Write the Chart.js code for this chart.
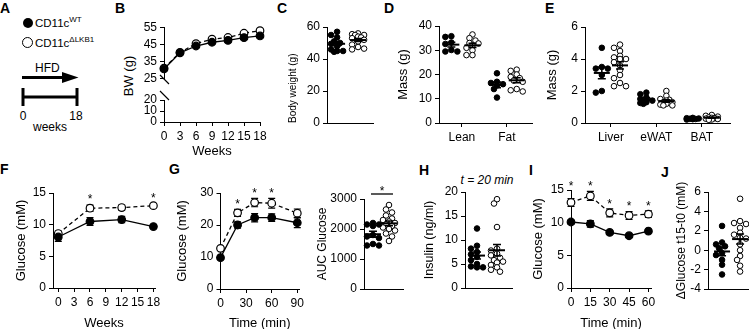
<!DOCTYPE html>
<html><head><meta charset="utf-8">
<script src="https://cdn.jsdelivr.net/npm/chart.js@4.4.1/dist/chart.umd.min.js"></script>
<style>
body{margin:0;background:#fff;}
#fig{position:relative;width:749px;height:329px;overflow:hidden;font-family:"Liberation Sans",Arial,sans-serif;color:#000;}
.rot{position:absolute;transform:translate(-50%,-50%) rotate(-90deg);white-space:nowrap;}
</style></head><body>
<div id="fig">
<svg style="position:absolute;left:0;top:0" width="749" height="329" font-family="Liberation Sans, Arial, sans-serif">
  <g font-weight="bold" font-size="14">
    <text x="0" y="13">A</text><text x="115" y="13">B</text><text x="277" y="13">C</text>
    <text x="384" y="13">D</text><text x="545" y="13">E</text>
    <text x="0" y="174">F</text><text x="169" y="174">G</text><text x="419" y="175">H</text>
    <text x="529" y="175">I</text><text x="661" y="177">J</text>
  </g>
  <circle cx="28" cy="23" r="5" fill="#000"/>
  <text x="35" y="27" font-size="11.5">CD11c<tspan dy="-5" font-size="8">WT</tspan></text>
  <circle cx="27.5" cy="42.5" r="5" fill="#fff" stroke="#000" stroke-width="1"/>
  <text x="35" y="47" font-size="11.5">CD11c<tspan dy="-5" font-size="8">ΔLKB1</tspan></text>
  <text x="35" y="72" font-size="12">HFD</text>
  <line x1="22" y1="77.5" x2="64" y2="77.5" stroke="#000" stroke-width="3"/>
  <polygon points="62,72 78.5,77.5 62,83" fill="#000"/>
  <line x1="23" y1="97" x2="77" y2="97" stroke="#000" stroke-width="3"/>
  <line x1="23" y1="88" x2="23" y2="106" stroke="#000" stroke-width="3"/>
  <line x1="77" y1="88" x2="77" y2="106" stroke="#000" stroke-width="3"/>
  <g font-size="12" text-anchor="middle">
    <text x="23" y="120">0</text><text x="76" y="120">18</text><text x="50" y="131">weeks</text>
  </g>
  <text x="487" y="184" font-size="12" font-style="italic" text-anchor="middle">t = 20 min</text>
</svg>
<div class="rot" style="left:128px;top:76px;font-size:13px;">BW (g)</div>
</div>
<script>
// ---------------- DATA ----------------
const weeksBW = [0, 3, 6, 9, 12, 15, 18];
const bwWT = [30.5, 40, 44, 46.2, 47.3, 48.9, 49.9];
const bwWTsem = [0.5, 0.6, 0.7, 0.7, 0.8, 0.8, 0.8];
const bwKO = [31, 40.2, 45.4, 48, 49, 51.5, 53];
const bwKOsem = [0.5, 0.6, 0.8, 0.8, 0.9, 0.9, 1.0];
const bwTicksUpper = [25, 35, 45, 55];
const bwTicksLower = [0, 10, 20];
const weekTicks = [0, 3, 6, 9, 12, 15, 18];

const bodyWtWT = [57, 55, 53.5, 51, 50, 49.5, 48, 46, 45, 45, 44.5];
const bodyWtKO = [56, 55.5, 55, 55, 54, 53.5, 53, 52, 51, 49, 47.5, 46.5, 46];
const bodyWtTicks = [0, 20, 40, 60];

const compLabels = ['Lean', 'Fat'];
const leanWT = [35.8, 35.5, 33.2, 32.6, 30.1, 29.5, 29.5];
const leanKO = [36.5, 35, 34, 33, 32.8, 32, 31, 30, 28, 28];
const fatWT = [20.5, 17, 16.5, 16, 15.5, 14, 10.5];
const fatKO = [22, 21.5, 20, 19, 18.5, 17.5, 17, 14, 13.5, 13];
const compTicks = [0, 10, 20, 30, 40];

const tissueLabels = ['Liver', 'eWAT', 'BAT'];
const liverWT = [4.7, 3.5, 3.4, 3.4, 3.0, 2.0, 1.9];
const liverKO = [4.9, 4.7, 4.5, 4.2, 4.1, 4.0, 4.0, 3.8, 3.6, 3.3, 3.0, 2.8, 2.5, 2.3, 2.3];
const ewatWT = [1.9, 1.8, 1.6, 1.5, 1.4, 1.3, 1.25, 1.2];
const ewatKO = [2.0, 1.7, 1.5, 1.45, 1.4, 1.3, 1.3, 1.25, 1.2, 1.15, 1.1, 1.1];
const batWT = [0.32, 0.3, 0.28, 0.26, 0.25, 0.24, 0.22];
const batKO = [0.5, 0.45, 0.4, 0.35, 0.32, 0.3, 0.27, 0.25, 0.22, 0.2];
const tissueTicks = [0, 2, 4, 6];

const fWeeks = [0, 6, 12, 18];
const fWT = [8.05, 10.5, 10.8, 9.7];
const fWTsem = [0.7, 0.6, 0.5, 0.3];
const fKO = [8.6, 12.6, 12.7, 13.0];
const fKOsem = [0.4, 0.5, 0.4, 0.3];
const fStars = [6, 18];
const fTicks = [0, 5, 10, 15];

const gTimes = [0, 20, 40, 60, 90];
const gWT = [9.8, 20, 22.3, 22.3, 20.7];
const gWTsem = [0.5, 1.0, 1.3, 1.2, 1.5];
const gKO = [12.7, 23.8, 27, 26.8, 23.7];
const gKOsem = [0.5, 1.1, 1.3, 1.5, 1.3];
const gStars = [20, 40, 60];
const gXTicks = [0, 30, 60, 90];
const gYTicks = [0, 10, 20, 30];

const aucWT = [2200, 2150, 2150, 2100, 1800, 1750, 1700, 1500, 1450, 1450];
const aucKO = [2800, 2650, 2550, 2450, 2350, 2300, 2250, 2200, 2150, 2100, 2050, 2000, 1950, 1850, 1750, 1600];
const aucTicks = [0, 1000, 2000, 3000];

const insWT = [12.4, 8.8, 8.2, 7.5, 7.0, 6.5, 5.8, 5.0, 4.5, 4.3, 4.3];
const insKO = [18.5, 17.6, 12.7, 8.2, 7.8, 7.2, 6.8, 6.3, 5.8, 5.5, 5.3, 4.8, 4.3, 3.8, 3.4];
const insTicks = [0, 5, 10, 15, 20];

const iTimes = [0, 15, 30, 45, 60];
const iWT = [10.1, 9.8, 8.5, 8.0, 8.7];
const iWTsem = [0.3, 0.5, 0.3, 0.2, 0.2];
const iKO = [13.1, 14.1, 11.5, 11.1, 11.3];
const iKOsem = [0.6, 0.7, 0.6, 0.6, 0.5];
const iStars = [0, 15, 30, 45, 60];
const iStarGaps = [15, 8, 8, 8, 8];
const iXTicks = [0, 15, 30, 45, 60];
const iYTicks = [0, 5, 10, 15];

const dWT = [2.5, 0.8, 0.6, 0.4, 0.2, -0.3, -0.5, -1.0, -1.5, -2.5];
const dKO = [5.3, 3.0, 2.8, 2.7, 2.3, 1.8, 1.6, 1.3, 1.2, 0.6, 0.0, -0.6, -1.0, -1.6, -2.2];
const dTicks = [-4, -2, 0, 2, 4, 6];

// ---------------- HELPERS ----------------
const FONT = '"Liberation Sans", Arial, sans-serif';
const BLACK = '#000';
Chart.defaults.font.family = FONT;
Chart.defaults.color = BLACK;

const marks = {
  id: 'marks',
  beforeDatasetsDraw(chart) {
    const ctx = chart.ctx, ys = chart.scales.y;
    chart.data.datasets.forEach((ds, i) => {
      if (!ds.sem) return;
      const meta = chart.getDatasetMeta(i);
      ctx.save(); ctx.strokeStyle = BLACK; ctx.lineWidth = 1.2;
      meta.data.forEach((p, j) => {
        const v = ds.data[j].y, s = ds.sem[j];
        const y1 = ys.getPixelForValue(v + s), y2 = ys.getPixelForValue(v - s);
        ctx.beginPath();
        ctx.moveTo(p.x, y1); ctx.lineTo(p.x, y2);
        ctx.moveTo(p.x - 3.5, y1); ctx.lineTo(p.x + 3.5, y1);
        ctx.moveTo(p.x - 3.5, y2); ctx.lineTo(p.x + 3.5, y2);
        ctx.stroke();
      });
      ctx.restore();
    });
  },
  afterDatasetsDraw(chart) {
    const ctx = chart.ctx, ys = chart.scales.y, xs = chart.scales.x;
    chart.data.datasets.forEach(ds => {
      if (!ds.vals) return;
      const n = ds.vals.length;
      const m = ds.vals.reduce((a, b) => a + b, 0) / n;
      const sd = Math.sqrt(ds.vals.reduce((a, b) => a + (b - m) * (b - m), 0) / (n - 1));
      const se = sd / Math.sqrt(n);
      const cx = xs.getPixelForValue(ds.center);
      const ym = ys.getPixelForValue(m), y1 = ys.getPixelForValue(m + se), y2 = ys.getPixelForValue(m - se);
      ctx.save(); ctx.strokeStyle = BLACK;
      ctx.lineWidth = 2;
      ctx.beginPath(); ctx.moveTo(cx - 8, ym); ctx.lineTo(cx + 8, ym); ctx.stroke();
      ctx.lineWidth = 1.5;
      ctx.beginPath();
      ctx.moveTo(cx, y1); ctx.lineTo(cx, y2);
      ctx.moveTo(cx - 4, y1); ctx.lineTo(cx + 4, y1);
      ctx.moveTo(cx - 4, y2); ctx.lineTo(cx + 4, y2);
      ctx.stroke();
      ctx.restore();
    });
  },
  afterDraw(chart, args, opts) {
    const ctx = chart.ctx, ys = chart.scales.y, xs = chart.scales.x, ca = chart.chartArea;
    ctx.save();
    ctx.fillStyle = BLACK; ctx.strokeStyle = BLACK;
    ctx.font = '12px ' + FONT; ctx.textAlign = 'center'; ctx.textBaseline = 'alphabetic';
    if (opts.stars) {
      opts.stars.forEach((xv, si) => {
        let top = -Infinity;
        chart.data.datasets.forEach(ds => {
          if (!ds.sem) return;
          ds.data.forEach((d, j) => { if (d.x === xv) top = Math.max(top, d.y + ds.sem[j]); });
        });
        const gap = opts.gaps ? opts.gaps[si] : (opts.gap || 9);
        const py = ys.getPixelForValue(top) - gap;
        ctx.fillText('*', xs.getPixelForValue(xv), py + 6.9);
      });
    }
    if (opts.sig) {
      const y = ca.top - 5;
      const xa = xs.getPixelForValue(opts.sig[0]) - 2, xb = xs.getPixelForValue(opts.sig[1]) + 4;
      ctx.lineWidth = 1.3;
      ctx.beginPath(); ctx.moveTo(xa, y); ctx.lineTo(xb, y); ctx.stroke();
      ctx.fillText('*', (xa + xb) / 2, y + 1);
    }
    if (opts.brk) {
      const l = ca.left, t = ca.top;
      ctx.lineWidth = 1.2;
      ctx.beginPath();
      ctx.moveTo(l - 4, t - 25); ctx.lineTo(l + 5, t - 16);
      ctx.moveTo(l - 4, t - 9); ctx.lineTo(l + 5, t);
      ctx.stroke();
    }
    ctx.restore();
  }
};
Chart.register(marks);

// compact dot-plot layout: a few horizontal slots, overlap allowed when crowded
function swarm(vals, center, pxX, pxY, d, step, kmax) {
  const idx = vals.map((v, i) => i).sort((a, b) => vals[b] - vals[a]);
  const slots = [0];
  for (let k = 1; k <= kmax; k++) slots.push(-k, k);
  const placed = [], out = new Array(vals.length);
  for (const i of idx) {
    const py = vals[i] * pxY;
    let best = null, bestD = -1;
    for (const k of slots) {
      const px = k * step;
      const md = placed.reduce((a, p) => Math.min(a, Math.hypot(p.px - px, p.py - py)), Infinity);
      if (md >= d) { best = px; break; }
      if (md > bestD + 0.5) { bestD = md; best = px; }
    }
    placed.push({px: best, py});
    out[i] = {x: center + best / pxX, y: vals[i]};
  }
  return out;
}

function lineDs(xs, ys, sem, filled) {
  return {
    data: xs.map((x, i) => ({x, y: ys[i]})), sem, showLine: true,
    borderColor: BLACK, borderWidth: 1.3, borderDash: filled ? [] : [4, 3],
    pointRadius: 3.8, pointBorderWidth: 1.2,
    pointBackgroundColor: filled ? BLACK : '#fff', pointBorderColor: BLACK, clip: false
  };
}

function build(cfg) {
  const [cl, ct, cw, ch] = cfg.box, [pl, pt, pr, pb] = cfg.plot;
  const X = cfg.x, Y = cfg.y;
  const wrap = document.createElement('div');
  wrap.style.cssText = `position:absolute;left:${cl}px;top:${ct}px;width:${cw}px;height:${ch}px;`;
  const cv = document.createElement('canvas');
  cv.width = cw; cv.height = ch; cv.style.width = cw + 'px'; cv.style.height = ch + 'px';
  wrap.appendChild(cv); document.getElementById('fig').appendChild(wrap);

  const ytS = Y.titleSize || 13, xtS = X.titleSize || 13;
  const yLeft = Y.title ? Y.titleX - ytS * 0.6 : pl - 35;
  const xBottom = X.title ? X.titleY + xtS * 0.6 : pb + (X.ticks ? 24 : 0);
  const yW = pl - yLeft, xH = xBottom - pb;
  const pad = {left: yLeft - cl, top: pt - ct, right: cl + cw - pr, bottom: ct + ch - xBottom};
  const pxX = (pr - pl) / (X.max - X.min), pxY = (pb - pt) / (Y.max - Y.min);

  let datasets = cfg.datasets;
  if (cfg.groups) {
    datasets = cfg.groups.map(g => ({
      data: swarm(g.vals, g.center, pxX, pxY, 4.6, 3.0, 2), vals: g.vals, center: g.center,
      showLine: false, pointRadius: 2.8, pointBorderWidth: 1,
      pointBackgroundColor: g.filled ? BLACK : '#fff', pointBorderColor: BLACK, clip: false
    }));
  }
  const tickFont = {family: FONT, size: 12};
  const hasXT = !!(X.ticks && X.ticks.length);
  new Chart(cv, {
    type: 'scatter',
    data: {datasets},
    options: {
      responsive: false, animation: false, devicePixelRatio: 1, events: [],
      layout: {padding: pad, autoPadding: false},
      plugins: {legend: {display: false}, tooltip: {enabled: false}, title: {display: false},
                marks: cfg.marks || {}},
      scales: {
        x: {
          type: 'linear', min: X.min, max: X.max,
          afterBuildTicks: s => { s.ticks = (hasXT ? X.ticks : [X.min]).map(v => ({value: v})); },
          afterFit: s => { s.height = xH; s.paddingLeft = 0; s.paddingRight = 0; },
          ticks: {display: hasXT, autoSkip: false, maxRotation: 0, color: BLACK, font: tickFont, padding: 3,
                  callback: v => X.labels ? X.labels[X.ticks.indexOf(v)] : String(v)},
          grid: {display: hasXT, drawOnChartArea: false, drawTicks: true, tickLength: 4, color: BLACK, lineWidth: 1},
          border: {display: !X.hidden, color: BLACK, width: 1},
          title: {display: !!X.title, text: X.title || '', color: BLACK, font: {family: FONT, size: xtS}, padding: 0}
        },
        y: {
          type: 'linear', min: Y.min, max: Y.max,
          afterBuildTicks: s => { s.ticks = Y.ticks.map(v => ({value: v})); },
          afterFit: s => { s.width = yW; s.paddingTop = 0; s.paddingBottom = 0; },
          ticks: {autoSkip: false, color: BLACK, font: tickFont, padding: 3, callback: v => String(v)},
          grid: {display: true, drawOnChartArea: false, drawTicks: true, tickLength: 4, color: BLACK, lineWidth: 1},
          border: {display: true, color: BLACK, width: 1},
          title: {display: !!Y.title, text: Y.title || '', align: Y.align || 'center', color: BLACK,
                  font: {family: FONT, size: ytS}, padding: 0}
        }
      }
    }
  });
}

// ---------------- PANELS ----------------
// B (broken axis: upper + lower)
build({box: [110, 15, 160, 72], plot: [164, 27.3, 260, 78.3],
  x: {min: 0, max: 18, hidden: true}, y: {min: 25, max: 55, ticks: bwTicksUpper},
  datasets: [lineDs(weeksBW, bwWT, bwWTsem, true), lineDs(weeksBW, bwKO, bwKOsem, false)]});
build({box: [110, 60, 160, 100], plot: [164, 100, 260, 122],
  x: {min: 0, max: 18, ticks: weekTicks, title: 'Weeks', titleY: 151},
  y: {min: 0, max: 20, ticks: bwTicksLower}, datasets: [], marks: {brk: true}});

// C
build({box: [280, 15, 100, 120], plot: [327, 27, 373, 123],
  x: {min: 0.52, max: 2.71},
  y: {min: 0, max: 60, ticks: bodyWtTicks, title: 'Body weight (g)', titleX: 293, titleSize: 10, align: 'start'},
  groups: [{vals: bodyWtWT, center: 1, filled: true}, {vals: bodyWtKO, center: 2, filled: false}]});

// D
build({box: [390, 15, 150, 140], plot: [439, 26, 532, 123],
  x: {min: -0.51, max: 1.56, ticks: [0, 1], labels: compLabels},
  y: {min: 0, max: 40, ticks: compTicks, title: 'Mass (g)', titleX: 403},
  groups: [{vals: leanWT, center: -0.235, filled: true}, {vals: leanKO, center: 0.235, filled: false},
           {vals: fatWT, center: 0.78, filled: true}, {vals: fatKO, center: 1.22, filled: false}]});

// E
build({box: [540, 15, 209, 140], plot: [585, 27, 730, 123],
  x: {min: -0.57, max: 2.62, ticks: [0, 1, 2], labels: tissueLabels},
  y: {min: 0, max: 6, ticks: tissueTicks, title: 'Mass (g)', titleX: 552},
  groups: [{vals: liverWT, center: -0.2, filled: true}, {vals: liverKO, center: 0.2, filled: false},
           {vals: ewatWT, center: 0.78, filled: true}, {vals: ewatKO, center: 1.22, filled: false},
           {vals: batWT, center: 1.8, filled: true}, {vals: batKO, center: 2.22, filled: false}]});

// F
build({box: [5, 170, 160, 159], plot: [53, 193, 155, 288],
  x: {min: -1, max: 18.3, ticks: weekTicks, title: 'Weeks', titleY: 323},
  y: {min: 0, max: 15, ticks: fTicks, title: 'Glucose (mM)', titleX: 21},
  datasets: [lineDs(fWeeks, fWT, fWTsem, true), lineDs(fWeeks, fKO, fKOsem, false)],
  marks: {stars: fStars, gap: 9}});

// G
build({box: [170, 170, 140, 159], plot: [220.5, 193, 299, 289],
  x: {min: 0, max: 92, ticks: gXTicks, title: 'Time (min)', titleY: 323},
  y: {min: 0, max: 30, ticks: gYTicks, title: 'Glucose (mM)', titleX: 182},
  datasets: [lineDs(gTimes, gWT, gWTsem, true), lineDs(gTimes, gKO, gKOsem, false)],
  marks: {stars: gStars, gap: 8}});

// G AUC
build({box: [310, 170, 100, 159], plot: [364, 199, 403, 289],
  x: {min: 0.44, max: 2.875}, y: {min: 0, max: 3000, ticks: aucTicks, title: 'AUC Glucose', titleX: 323, titleSize: 12},
  groups: [{vals: aucWT, center: 1, filled: true}, {vals: aucKO, center: 2, filled: false}],
  marks: {sig: [1, 2]}});

// H
build({box: [415, 170, 105, 159], plot: [465, 192, 512, 288],
  x: {min: 0.4, max: 2.75}, y: {min: 0, max: 20, ticks: insTicks, title: 'Insulin (ng/ml)', titleX: 430, titleSize: 12.5},
  groups: [{vals: insWT, center: 1, filled: true}, {vals: insKO, center: 2, filled: false}]});

// I
build({box: [520, 170, 140, 159], plot: [571, 190, 651, 288],
  x: {min: 0, max: 62, ticks: iXTicks, title: 'Time (min)', titleY: 323},
  y: {min: 0, max: 15, ticks: iYTicks, title: 'Glucose (mM)', titleX: 538},
  datasets: [lineDs(iTimes, iWT, iWTsem, true), lineDs(iTimes, iKO, iKOsem, false)],
  marks: {stars: iStars, gaps: iStarGaps}});

// J
build({box: [660, 170, 89, 159], plot: [708, 192, 748, 289],
  x: {min: 0.22, max: 2.44}, y: {min: -4, max: 6, ticks: dTicks, title: 'ΔGlucose t15-t0 (mM)', titleX: 682, titleSize: 12},
  groups: [{vals: dWT, center: 1, filled: true}, {vals: dKO, center: 2, filled: false}]});
</script>
</body></html>
